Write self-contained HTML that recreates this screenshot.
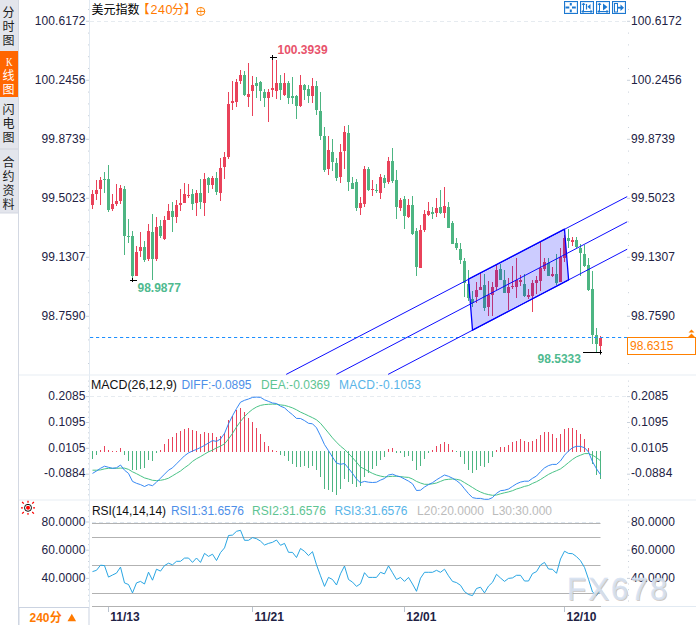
<!DOCTYPE html><html><head><meta charset="utf-8"><title>chart</title><style>html,body{margin:0;padding:0;background:#fff}svg{display:block}text{white-space:pre}</style></head><body><svg width="696" height="625" viewBox="0 0 696 625">
<rect width="696" height="625" fill="#fff"/>
<rect x="0" y="0" width="18.5" height="213" fill="#e3e5ec"/>
<rect x="18" y="0" width="1" height="625" fill="#d3d8e2"/>
<rect x="0" y="51" width="18" height="46" fill="#ff6600"/>
<rect x="0" y="148.5" width="18" height="1" fill="#cfd3dc"/>
<rect x="0" y="212.5" width="18.5" height="1" fill="#d3d8e2"/>
<g font-family="Liberation Sans, Noto Sans CJK SC, sans-serif" font-size="12" text-anchor="middle" fill="#1a1a1a">
<text x="8.6" y="17.3">分</text>
<text x="8.6" y="31.2">时</text>
<text x="8.6" y="45.3">图</text>
</g>
<text x="6" y="66" font-family="Liberation Serif, serif" font-size="12" fill="#fff" textLength="6.6" lengthAdjust="spacingAndGlyphs">K</text>
<g font-family="Liberation Sans, Noto Sans CJK SC, sans-serif" font-size="12" text-anchor="middle" fill="#fff">
<text x="8.6" y="80.3">线</text>
<text x="8.6" y="94.3">图</text>
</g>
<g font-family="Liberation Sans, Noto Sans CJK SC, sans-serif" font-size="12" text-anchor="middle" fill="#1a1a1a">
<text x="8.6" y="114.3">闪</text>
<text x="8.6" y="128.2">电</text>
<text x="8.6" y="142.3">图</text>
<text x="8.6" y="167.3">合</text>
<text x="8.6" y="181.3">约</text>
<text x="8.6" y="195.3">资</text>
<text x="8.6" y="209.3">料</text>
</g>
<rect x="89" y="0" width="1" height="607" fill="#e2eaf2"/>
<rect x="19" y="374.5" width="677" height="1" fill="#e8edf3"/>
<rect x="19" y="499.5" width="677" height="1" fill="#e8edf3"/>
<path d="M90 21.5H627" stroke="#e6ebf0" stroke-width="1" stroke-dasharray="4 3" fill="none"/>
<path d="M90 396.5H627" stroke="#e6ebf0" stroke-width="1" stroke-dasharray="4 3" fill="none"/>
<path d="M92 522.5H601" stroke="#dfe7ef" stroke-width="1" stroke-dasharray="4 3" fill="none"/>
<g font-family="Liberation Sans, sans-serif" font-size="12" fill="#222244" letter-spacing="0.1">
<path d="M88 9.5h1M86 21.3h3M88 33.1h1M88 44.9h1M88 56.7h1M88 68.5h1M86 80.3h3M88 92.1h1M88 103.9h1M88 115.7h1M88 127.5h1M86 139.3h3M88 151.1h1M88 162.9h1M88 174.7h1M88 186.5h1M86 198.3h3M88 210.1h1M88 221.9h1M88 233.7h1M88 245.5h1M86 257.3h3M88 269.1h1M88 280.9h1M88 292.7h1M88 304.5h1M86 316.3h3M88 328.1h1M88 339.9h1M88 351.7h1M88 363.5h1M628 9.5h1M627 21.3h3M628 33.1h1M628 44.9h1M628 56.7h1M628 68.5h1M627 80.3h3M628 92.1h1M628 103.9h1M628 115.7h1M628 127.5h1M627 139.3h3M628 151.1h1M628 162.9h1M628 174.7h1M628 186.5h1M627 198.3h3M628 210.1h1M628 221.9h1M628 233.7h1M628 245.5h1M627 257.3h3M628 269.1h1M628 280.9h1M628 292.7h1M628 304.5h1M627 316.3h3M628 328.1h1M628 339.9h1M628 351.7h1M628 363.5h1" stroke="#c9d1db" stroke-width="1" fill="none"/>
<text x="85.5" y="25.1" text-anchor="end">100.6172</text>
<text x="631" y="25.1">100.6172</text>
<text x="85.5" y="84.1" text-anchor="end">100.2456</text>
<text x="631" y="84.1">100.2456</text>
<text x="85.5" y="143.1" text-anchor="end">99.8739</text>
<text x="631" y="143.1">99.8739</text>
<text x="85.5" y="202.1" text-anchor="end">99.5023</text>
<text x="631" y="202.1">99.5023</text>
<text x="85.5" y="261.1" text-anchor="end">99.1307</text>
<text x="631" y="261.1">99.1307</text>
<text x="85.5" y="320.1" text-anchor="end">98.7590</text>
<text x="631" y="320.1">98.7590</text>
<path d="M88 381.1h1M88 386.3h1M88 391.4h1M86 396.6h3M88 401.8h1M88 406.9h1M88 412.1h1M88 417.3h1M86 422.5h3M88 427.6h1M88 432.8h1M88 438.0h1M88 443.1h1M86 448.3h3M88 453.5h1M88 458.6h1M88 463.8h1M88 469.0h1M86 474.2h3M88 479.3h1M88 484.5h1M88 489.7h1M88 494.8h1M628 381.1h1M628 386.3h1M628 391.4h1M627 396.6h3M628 401.8h1M628 406.9h1M628 412.1h1M628 417.3h1M627 422.5h3M628 427.6h1M628 432.8h1M628 438.0h1M628 443.1h1M627 448.3h3M628 453.5h1M628 458.6h1M628 463.8h1M628 469.0h1M627 474.2h3M628 479.3h1M628 484.5h1M628 489.7h1M628 494.8h1" stroke="#c9d1db" stroke-width="1" fill="none"/>
<text x="85.5" y="399.8" text-anchor="end">0.2085</text>
<text x="631" y="399.8">0.2085</text>
<text x="85.5" y="425.7" text-anchor="end">0.1095</text>
<text x="631" y="425.7">0.1095</text>
<text x="85.5" y="451.5" text-anchor="end">0.0105</text>
<text x="631" y="451.5">0.0105</text>
<text x="85.5" y="477.4" text-anchor="end">-0.0884</text>
<text x="631" y="477.4">-0.0884</text>
<path d="M88 505.1h1M88 510.7h1M88 516.4h1M86 522.0h3M88 527.6h1M88 533.3h1M88 538.9h1M88 544.6h1M86 550.2h3M88 555.8h1M88 561.5h1M88 567.1h1M88 572.8h1M86 578.4h3M88 584.0h1M88 589.7h1M88 595.3h1M88 601.0h1M628 505.1h1M628 510.7h1M628 516.4h1M627 522.0h3M628 527.6h1M628 533.3h1M628 538.9h1M628 544.6h1M627 550.2h3M628 555.8h1M628 561.5h1M628 567.1h1M628 572.8h1M627 578.4h3M628 584.0h1M628 589.7h1M628 595.3h1M628 601.0h1" stroke="#c9d1db" stroke-width="1" fill="none"/>
<text x="85.5" y="525.7" text-anchor="end">80.0000</text>
<text x="631" y="525.7">80.0000</text>
<text x="85.5" y="553.9" text-anchor="end">60.0000</text>
<text x="631" y="553.9">60.0000</text>
<text x="85.5" y="582.1" text-anchor="end">40.0000</text>
<text x="631" y="582.1">40.0000</text>
</g>
<path d="M104 172h1V193h-1ZM103 179h3V180h-3ZM108 165h1V212h-1ZM107 179h3V210h-3ZM124 186h1V255h-1ZM123 189h3V236h-3ZM128 219h1V243h-1ZM127 236h3V237h-3ZM132 231h1V280h-1ZM131 236h3V276h-3ZM144 241h1V262h-1ZM143 247h3V260h-3ZM152 214h1V280h-1ZM151 232h3V259h-3ZM160 220h1V238h-1ZM159 226h3V236h-3ZM172 202h1V232h-1ZM171 211h3V217h-3ZM192 189h1V210h-1ZM191 194h3V204h-3ZM200 179h1V209h-1ZM199 193h3V202h-3ZM208 177h1V193h-1ZM207 178h3V185h-3ZM216 172h1V195h-1ZM215 178h3V192h-3ZM244 71h1V96h-1ZM243 75h3V95h-3ZM256 77h1V98h-1ZM255 83h3V86h-3ZM260 81h1V101h-1ZM259 82h3V91h-3ZM264 89h1V107h-1ZM263 92h3V98h-3ZM280 75h1V100h-1ZM279 83h3V90h-3ZM288 81h1V104h-1ZM287 83h3V98h-3ZM292 77h1V104h-1ZM291 96h3V98h-3ZM296 95h1V119h-1ZM295 96h3V106h-3ZM304 84h1V100h-1ZM303 85h3V90h-3ZM308 85h1V103h-1ZM307 89h3V96h-3ZM316 81h1V115h-1ZM315 86h3V110h-3ZM320 92h1V140h-1ZM319 111h3V136h-3ZM324 127h1V172h-1ZM323 136h3V170h-3ZM332 139h1V171h-1ZM331 152h3V162h-3ZM336 158h1V181h-1ZM335 163h3V178h-3ZM348 125h1V191h-1ZM347 133h3V182h-3ZM352 177h1V189h-1ZM351 183h3V189h-3ZM356 179h1V211h-1ZM355 182h3V208h-3ZM368 167h1V191h-1ZM367 169h3V190h-3ZM376 184h1V193h-1ZM375 190h3V191h-3ZM384 175h1V188h-1ZM383 178h3V183h-3ZM392 148h1V183h-1ZM391 161h3V181h-3ZM396 170h1V219h-1ZM395 180h3V207h-3ZM404 196h1V229h-1ZM403 199h3V216h-3ZM412 196h1V235h-1ZM411 205h3V234h-3ZM416 228h1V276h-1ZM415 231h3V267h-3ZM432 207h1V219h-1ZM431 212h3V214h-3ZM440 190h1V214h-1ZM439 207h3V213h-3ZM448 202h1V228h-1ZM447 207h3V228h-3ZM452 221h1V244h-1ZM451 223h3V244h-3ZM456 238h1V250h-1ZM455 243h3V248h-3ZM460 243h1V264h-1ZM459 249h3V260h-3ZM464 258h1V297h-1ZM463 261h3V283h-3ZM468 270h1V301h-1ZM467 284h3V298h-3ZM472 291h1V307h-1ZM471 299h3V303h-3ZM484 274h1V311h-1ZM483 285h3V308h-3ZM500 264h1V280h-1ZM499 269h3V280h-3ZM504 270h1V293h-1ZM503 280h3V293h-3ZM524 274h1V297h-1ZM523 284h3V296h-3ZM548 258h1V276h-1ZM547 263h3V276h-3ZM556 254h1V285h-1ZM555 274h3V283h-3ZM568 229h1V248h-1ZM567 238h3V241h-3ZM576 237h1V248h-1ZM575 240h3V247h-3ZM580 244h1V276h-1ZM579 248h3V253h-3ZM584 245h1V267h-1ZM583 254h3V266h-3ZM588 258h1V291h-1ZM587 265h3V290h-3ZM592 271h1V344h-1ZM591 289h3V335h-3ZM596 328h1V352h-1ZM595 335h3V344h-3Z" fill="#4db582"/>
<path d="M92 190h1V209h-1ZM91 194h3V205h-3ZM96 180h1V200h-1ZM95 190h3V194h-3ZM100 177h1V205h-1ZM99 180h3V189h-3ZM112 194h1V211h-1ZM111 204h3V209h-3ZM116 184h1V206h-1ZM115 201h3V204h-3ZM120 185h1V204h-1ZM119 188h3V201h-3ZM136 246h1V276h-1ZM135 252h3V276h-3ZM140 232h1V257h-1ZM139 247h3V251h-3ZM148 224h1V261h-1ZM147 231h3V259h-3ZM156 217h1V261h-1ZM155 227h3V259h-3ZM164 216h1V240h-1ZM163 220h3V239h-3ZM168 204h1V220h-1ZM167 211h3V220h-3ZM176 200h1V223h-1ZM175 205h3V217h-3ZM180 189h1V211h-1ZM179 203h3V205h-3ZM184 183h1V203h-1ZM183 194h3V203h-3ZM188 184h1V198h-1ZM187 195h3V196h-3ZM196 190h1V216h-1ZM195 193h3V203h-3ZM204 173h1V216h-1ZM203 179h3V203h-3ZM212 176h1V189h-1ZM211 178h3V185h-3ZM220 158h1V201h-1ZM219 168h3V193h-3ZM224 152h1V179h-1ZM223 157h3V167h-3ZM228 92h1V159h-1ZM227 104h3V157h-3ZM232 81h1V110h-1ZM231 101h3V103h-3ZM236 79h1V107h-1ZM235 82h3V102h-3ZM240 70h1V84h-1ZM239 75h3V81h-3ZM248 63h1V107h-1ZM247 94h3V97h-3ZM252 76h1V116h-1ZM251 85h3V91h-3ZM268 89h1V122h-1ZM267 92h3V98h-3ZM272 57h1V97h-1ZM271 88h3V90h-3ZM276 60h1V99h-1ZM275 83h3V91h-3ZM284 73h1V96h-1ZM283 83h3V95h-3ZM300 75h1V107h-1ZM299 85h3V106h-3ZM312 78h1V103h-1ZM311 86h3V96h-3ZM328 136h1V175h-1ZM327 150h3V169h-3ZM340 144h1V183h-1ZM339 152h3V177h-3ZM344 126h1V169h-1ZM343 132h3V151h-3ZM360 197h1V215h-1ZM359 203h3V208h-3ZM364 166h1V207h-1ZM363 169h3V204h-3ZM372 180h1V196h-1ZM371 189h3V190h-3ZM380 174h1V199h-1ZM379 177h3V193h-3ZM388 157h1V184h-1ZM387 161h3V182h-3ZM400 198h1V211h-1ZM399 200h3V208h-3ZM408 199h1V218h-1ZM407 205h3V217h-3ZM420 225h1V268h-1ZM419 230h3V268h-3ZM424 210h1V232h-1ZM423 214h3V230h-3ZM428 202h1V216h-1ZM427 211h3V215h-3ZM436 198h1V217h-1ZM435 208h3V213h-3ZM444 187h1V218h-1ZM443 206h3V213h-3ZM476 282h1V303h-1ZM475 290h3V297h-3ZM480 273h1V290h-1ZM479 287h3V290h-3ZM488 281h1V316h-1ZM487 295h3V307h-3ZM492 282h1V316h-1ZM491 287h3V295h-3ZM496 265h1V290h-1ZM495 270h3V287h-3ZM508 278h1V310h-1ZM507 287h3V293h-3ZM512 266h1V289h-1ZM511 286h3V287h-3ZM516 258h1V298h-1ZM515 280h3V287h-3ZM520 275h1V286h-1ZM519 280h3V282h-3ZM528 289h1V299h-1ZM527 295h3V297h-3ZM532 280h1V312h-1ZM531 283h3V296h-3ZM536 276h1V294h-1ZM535 280h3V283h-3ZM540 242h1V291h-1ZM539 268h3V281h-3ZM544 258h1V271h-1ZM543 262h3V269h-3ZM552 267h1V277h-1ZM551 274h3V276h-3ZM560 248h1V282h-1ZM559 257h3V282h-3ZM564 235h1V262h-1ZM563 238h3V258h-3ZM572 237h1V246h-1ZM571 240h3V242h-3ZM600 336h1V352h-1ZM599 338h3V346h-3Z" fill="#e9425a"/>
<path d="M90 337.5H627" stroke="#1e8fff" stroke-width="1.2" stroke-dasharray="3.2 2.8" fill="none"/>
<path d="M468.5 279L564.5 229.2L568.6 279.9L472.5 330.2Z" fill="#0000ff" fill-opacity="0.2" stroke="#0000ff" stroke-width="1.3" stroke-linejoin="round"/>
<path d="M286.2 374.4L627.2 196.6M336.4 374.4L627.2 221.8M388.1 374.4L627.2 249.2" stroke="#0000ff" stroke-width="0.95" fill="none"/>
<path d="M270 57.5H277M272.5 55V60M130 280.5H137M132.5 278V282M583 352.5H602M600.5 350V354.5" stroke="#000" stroke-width="1" fill="none"/>
<g font-family="Liberation Sans, sans-serif" font-size="12" font-weight="bold">
<text x="277.5" y="54" fill="#e8536b">100.3939</text>
<text x="137.5" y="291.6" fill="#4fba8f">98.9877</text>
<text x="537.6" y="363.4" fill="#4fba8f">98.5333</text>
</g>
<rect x="627.5" y="337.5" width="68" height="17" fill="#fff" stroke="#ff8000" stroke-width="1"/>
<text x="630" y="349.8" font-family="Liberation Sans, sans-serif" font-size="12" fill="#ff8000">98.6315</text>
<path d="M688 337L691.5 333.5L695 337ZM688.5 332.5L691.5 329.5L694.5 332.5Z" fill="#ff8000"/>
<text x="91.5" y="14.3" font-family="Liberation Sans, Noto Sans CJK SC, sans-serif" font-size="12" fill="#000">美元指数</text>
<text x="137.5" y="14.3" font-family="Liberation Sans, Noto Sans CJK SC, sans-serif" font-size="12" fill="#ff7a00">【</text>
<text x="150.6" y="13.9" font-family="Liberation Sans, sans-serif" font-size="12.6" fill="#ff7a00" textLength="22">240</text>
<text x="172" y="14.3" font-family="Liberation Sans, Noto Sans CJK SC, sans-serif" font-size="12" fill="#ff7a00">分</text>
<text x="184" y="14.3" font-family="Liberation Sans, Noto Sans CJK SC, sans-serif" font-size="12" fill="#ff7a00">】</text>
<g stroke="#ff8000" fill="none"><circle cx="200.8" cy="11.4" r="4" stroke-width="1"/><path d="M196.8 11.4h8" stroke-width="1"/><path d="M200.8 7.4v8" stroke-width="0.6"/></g>
<rect x="564.5" y="1.5" width="13" height="12" fill="#fff" stroke="#1c78d0" stroke-width="1"/>
<rect x="565.5" y="2.5" width="11" height="10" fill="none" stroke="#deebf9" stroke-width="1"/>
<rect x="580.5" y="1.5" width="13" height="12" fill="#fff" stroke="#1c78d0" stroke-width="1"/>
<rect x="581.5" y="2.5" width="11" height="10" fill="none" stroke="#deebf9" stroke-width="1"/>
<rect x="596.5" y="1.5" width="13" height="12" fill="#fff" stroke="#1c78d0" stroke-width="1"/>
<rect x="597.5" y="2.5" width="11" height="10" fill="none" stroke="#deebf9" stroke-width="1"/>
<rect x="612.5" y="1.5" width="13" height="12" fill="#fff" stroke="#1c78d0" stroke-width="1"/>
<rect x="613.5" y="2.5" width="11" height="10" fill="none" stroke="#deebf9" stroke-width="1"/>
<path d="M565.5 7.5h3.8M572 7.5h3.8M570.8 3v2.6M570.8 9.4v2.8" stroke="#1c78d0" stroke-width="2" fill="none"/>
<path d="M583.5 3.5V12M582 5l1.5-2l1.5 2M582 11.5H592M590.5 10l1.5 1.5l-1.5 1.5M583.5 10l-1.5 1.5l1.5 1.5" stroke="#1c78d0" stroke-width="1" fill="none"/>
<path d="M586.5 4v5.5" stroke="#1c78d0" stroke-width="1.2" fill="none"/><path d="M590.5 4v5.5l-3-2.75z" fill="#1c78d0"/>
<path d="M599.5 3.5V12M598 5l1.5-2l1.5 2M598 11.5H608M606.5 10l1.5 1.5l-1.5 1.5M599.5 10l-1.5 1.5l1.5 1.5" stroke="#1c78d0" stroke-width="1" fill="none"/>
<path d="M603 3.5v7l4.5-3.5z" fill="#1c78d0"/>
<rect x="614.5" y="3.5" width="3" height="8.5" fill="none" stroke="#1c78d0" stroke-width="1"/>
<path d="M617 7.7h4" stroke="#1c78d0" stroke-width="1.8" fill="none"/><path d="M620.5 4.5l3.5 3.2l-3.5 3.2z" fill="#1c78d0"/>
<path d="M100 450h1v2h-1zM104 446h1v6h-1zM108 450h1v2h-1zM112 451h1v1h-1zM116 451h1v1h-1zM120 448h1v4h-1zM160 450h1v2h-1zM164 444h1v8h-1zM168 439h1v13h-1zM172 437h1v15h-1zM176 433h1v19h-1zM180 431h1v21h-1zM184 429h1v23h-1zM188 428h1v24h-1zM192 430h1v22h-1zM196 431h1v21h-1zM200 434h1v18h-1zM204 432h1v20h-1zM208 433h1v19h-1zM212 433h1v19h-1zM216 437h1v15h-1zM220 436h1v16h-1zM224 433h1v19h-1zM228 420h1v32h-1zM232 416h1v36h-1zM236 410h1v42h-1zM240 408h1v44h-1zM244 412h1v40h-1zM248 418h1v34h-1zM252 422h1v30h-1zM256 428h1v24h-1zM260 434h1v18h-1zM264 442h1v10h-1zM268 446h1v6h-1zM272 450h1v2h-1zM276 451h1v1h-1zM388 449h1v3h-1zM392 448h1v4h-1zM432 450h1v2h-1zM436 446h1v6h-1zM440 444h1v8h-1zM444 442h1v10h-1zM448 444h1v8h-1zM452 450h1v2h-1zM496 450h1v2h-1zM500 447h1v5h-1zM504 447h1v5h-1zM508 445h1v7h-1zM512 442h1v10h-1zM516 441h1v11h-1zM520 439h1v13h-1zM524 441h1v11h-1zM528 442h1v10h-1zM532 441h1v11h-1zM536 439h1v13h-1zM540 435h1v17h-1zM544 432h1v20h-1zM548 432h1v20h-1zM552 434h1v18h-1zM556 438h1v14h-1zM560 434h1v18h-1zM564 429h1v23h-1zM568 428h1v24h-1zM572 428h1v24h-1zM576 430h1v22h-1zM580 434h1v18h-1zM584 439h1v13h-1zM588 448h1v4h-1z" fill="#e9425a"/>
<path d="M92 451h1v8h-1zM96 451h1v4h-1zM124 451h1v4h-1zM128 451h1v10h-1zM132 451h1v19h-1zM136 451h1v19h-1zM140 451h1v18h-1zM144 451h1v17h-1zM148 451h1v9h-1zM152 451h1v10h-1zM156 451h1v2h-1zM280 451h1v4h-1zM284 451h1v5h-1zM288 451h1v10h-1zM292 451h1v13h-1zM296 451h1v16h-1zM300 451h1v16h-1zM304 451h1v15h-1zM308 451h1v17h-1zM312 451h1v15h-1zM316 451h1v19h-1zM320 451h1v26h-1zM324 451h1v38h-1zM328 451h1v39h-1zM332 451h1v41h-1zM336 451h1v44h-1zM340 451h1v38h-1zM344 451h1v28h-1zM348 451h1v31h-1zM352 451h1v33h-1zM356 451h1v36h-1zM360 451h1v35h-1zM364 451h1v26h-1zM368 451h1v22h-1zM372 451h1v18h-1zM376 451h1v15h-1zM380 451h1v9h-1zM384 451h1v6h-1zM396 451h1v2h-1zM400 451h1v2h-1zM404 451h1v6h-1zM408 451h1v5h-1zM412 451h1v10h-1zM416 451h1v19h-1zM420 451h1v15h-1zM424 451h1v8h-1zM428 451h1v2h-1zM456 451h1v1h-1zM460 451h1v6h-1zM464 451h1v13h-1zM468 451h1v19h-1zM472 451h1v22h-1zM476 451h1v19h-1zM480 451h1v15h-1zM484 451h1v16h-1zM488 451h1v12h-1zM492 451h1v6h-1zM592 451h1v13h-1zM596 451h1v24h-1zM600 451h1v28h-1z" fill="#4db582"/>
<polyline points="92.5,470.2 96.5,470.2 100.5,469.9 104.5,468.9 108.5,468.3 112.5,468.3 116.5,468.3 120.5,468.1 124.5,468.1 128.5,469.4 132.5,471.8 136.5,473.7 140.5,475.8 144.5,477.9 148.5,479.0 152.5,480.3 156.5,480.6 160.5,480.3 164.5,479.5 168.5,478.2 172.5,475.8 176.5,473.4 180.5,471.0 184.5,467.8 188.5,465.0 192.5,461.4 196.5,458.7 200.5,456.6 204.5,454.2 208.5,451.8 212.5,450.2 216.5,447.8 220.5,446.2 224.5,443.8 228.5,439.0 232.5,433.4 236.5,427.0 240.5,421.4 244.5,416.6 248.5,412.6 252.5,409.4 256.5,407.0 260.5,405.4 264.5,404.6 268.5,404.3 272.5,404.1 276.5,404.3 280.5,404.9 284.5,405.4 288.5,406.5 292.5,407.9 296.5,409.8 300.5,412.1 304.5,413.9 308.5,415.8 312.5,417.7 316.5,419.8 320.5,423.3 324.5,428.1 328.5,432.9 332.5,437.9 336.5,442.2 340.5,446.2 344.5,449.4 348.5,453.4 352.5,457.7 356.5,462.2 360.5,467.0 364.5,469.1 368.5,471.3 372.5,473.4 376.5,475.0 380.5,476.1 384.5,476.9 388.5,476.6 392.5,476.3 396.5,476.3 400.5,476.6 404.5,477.1 408.5,477.4 412.5,479.0 416.5,481.4 420.5,483.0 424.5,484.3 428.5,484.3 432.5,483.8 436.5,483.0 440.5,481.4 444.5,479.8 448.5,479.3 452.5,479.0 456.5,479.3 460.5,480.2 464.5,482.6 468.5,485.0 472.5,487.5 476.5,490.0 480.5,492.0 484.5,493.6 488.5,494.6 492.5,495.3 496.5,495.0 500.5,493.8 504.5,492.8 508.5,491.9 512.5,490.7 516.5,489.0 520.5,487.8 524.5,486.4 528.5,485.5 532.5,483.4 536.5,481.7 540.5,479.5 544.5,476.9 548.5,474.4 552.5,472.4 556.5,470.7 560.5,468.9 564.5,465.9 568.5,462.6 572.5,459.4 576.5,456.8 580.5,455.2 584.5,453.6 588.5,453.6 592.5,455.2 596.5,457.6 600.5,460.8" fill="none" stroke="#3fbf7f" stroke-width="0.95" stroke-linejoin="round"/>
<polyline points="92.5,473.4 96.5,471.0 100.5,468.3 104.5,466.2 108.5,467.3 112.5,468.3 116.5,467.8 120.5,465.0 124.5,470.2 128.5,473.4 132.5,481.4 136.5,483.3 140.5,484.6 144.5,486.5 148.5,484.6 152.5,485.7 156.5,482.2 160.5,478.2 164.5,474.2 168.5,470.2 172.5,467.8 176.5,463.8 180.5,459.8 184.5,455.8 188.5,452.9 192.5,451.0 196.5,449.4 200.5,447.5 204.5,445.4 208.5,443.0 212.5,440.6 216.5,441.4 220.5,439.0 224.5,433.4 228.5,423.8 232.5,415.8 236.5,408.6 240.5,402.2 244.5,400.3 248.5,399.0 252.5,397.4 256.5,397.1 260.5,397.4 264.5,399.8 268.5,401.4 272.5,403.0 276.5,403.5 280.5,406.2 284.5,407.8 288.5,411.5 292.5,414.7 296.5,418.4 300.5,418.5 304.5,420.6 308.5,423.3 312.5,423.8 316.5,427.8 320.5,435.8 324.5,444.6 328.5,450.7 332.5,457.1 336.5,463.0 340.5,464.3 344.5,463.5 348.5,468.3 352.5,473.4 356.5,479.0 360.5,482.7 364.5,481.4 368.5,482.2 372.5,482.5 376.5,482.2 380.5,480.1 384.5,478.5 388.5,475.0 392.5,474.2 396.5,475.8 400.5,476.9 404.5,479.0 408.5,481.1 412.5,483.8 416.5,490.5 420.5,490.2 424.5,487.0 428.5,484.6 432.5,482.7 436.5,479.8 440.5,477.4 444.5,475.0 448.5,476.3 452.5,478.2 456.5,480.6 460.5,483.8 464.5,488.8 468.5,493.6 472.5,497.6 476.5,498.4 480.5,498.4 484.5,499.3 488.5,499.3 492.5,497.6 496.5,493.3 500.5,490.7 504.5,490.2 508.5,489.0 512.5,486.4 516.5,483.8 520.5,482.1 524.5,481.2 528.5,481.2 532.5,478.3 536.5,476.0 540.5,471.7 544.5,467.9 548.5,465.6 552.5,464.4 556.5,464.4 560.5,460.9 564.5,455.2 568.5,451.0 572.5,447.7 576.5,446.3 580.5,446.4 584.5,447.7 588.5,452.0 592.5,461.6 596.5,468.8 600.5,474.6" fill="none" stroke="#2b82f2" stroke-width="0.95" stroke-linejoin="round"/>
<g font-family="Liberation Sans, sans-serif" font-size="12">
<text x="91" y="389.2" fill="#111" textLength="86" lengthAdjust="spacingAndGlyphs">MACD(26,12,9)</text>
<text x="181.5" y="389.2" fill="#4e8fe8" textLength="70">DIFF:-0.0895</text>
<text x="261" y="389.2" fill="#5ec492" textLength="69">DEA:-0.0369</text>
<text x="339" y="389.2" fill="#58b4e8" textLength="82">MACD:-0.1053</text>
</g>
<path d="M92 523.5H600.5M92 537.5H600.5M92 565.5H600.5M92 593.5H600.5" stroke="#b2b2b2" stroke-width="1" fill="none"/>
<polyline points="92.5,571.6 96.5,570.3 100.5,565.2 104.5,565.6 108.5,577.1 112.5,575.0 116.5,573.1 120.5,567.1 124.5,582.9 128.5,584.5 132.5,592.9 136.5,582.9 140.5,581.4 144.5,584.0 148.5,572.2 152.5,580.2 156.5,569.2 160.5,571.1 164.5,565.6 168.5,563.2 172.5,564.8 176.5,561.3 180.5,561.3 184.5,558.1 188.5,558.0 192.5,562.4 196.5,558.0 200.5,562.4 204.5,553.4 208.5,556.4 212.5,554.2 216.5,560.5 220.5,552.6 224.5,547.9 228.5,535.5 232.5,535.1 236.5,531.3 240.5,530.3 244.5,540.3 248.5,540.3 252.5,537.6 256.5,538.7 260.5,541.1 264.5,545.0 268.5,543.4 272.5,542.3 276.5,540.0 280.5,545.3 284.5,543.4 288.5,552.3 292.5,552.4 296.5,557.5 300.5,548.5 304.5,551.3 308.5,555.6 312.5,551.7 316.5,564.8 320.5,575.8 324.5,586.4 328.5,577.4 332.5,579.5 336.5,585.0 340.5,573.8 344.5,566.0 348.5,579.5 352.5,582.1 356.5,586.4 360.5,583.7 364.5,572.7 368.5,577.4 372.5,577.4 376.5,577.4 380.5,572.3 384.5,573.9 388.5,565.9 392.5,572.7 396.5,579.5 400.5,577.4 404.5,581.4 408.5,577.4 412.5,584.0 416.5,591.3 420.5,578.2 424.5,572.3 428.5,572.3 432.5,572.3 436.5,570.3 440.5,572.3 444.5,569.2 448.5,575.8 452.5,581.4 456.5,582.6 460.5,585.3 464.5,591.6 468.5,594.5 472.5,595.6 476.5,588.5 480.5,587.2 484.5,592.9 488.5,586.1 492.5,582.3 496.5,574.3 500.5,578.0 504.5,581.4 508.5,578.4 512.5,577.9 516.5,575.3 520.5,575.3 524.5,581.0 528.5,581.0 532.5,573.6 536.5,571.6 540.5,565.0 544.5,562.4 548.5,569.0 552.5,569.3 556.5,573.3 560.5,559.0 564.5,551.2 568.5,553.4 572.5,553.7 576.5,556.6 580.5,560.7 584.5,567.4 588.5,579.2 592.5,592.0 596.5,595.4 600.5,590.7" fill="none" stroke="#1ea0e0" stroke-width="0.95" stroke-linejoin="round"/>
<g font-family="Liberation Sans, sans-serif" font-size="12">
<text x="92" y="515.3" fill="#111" textLength="74">RSI(14,14,14)</text>
<text x="171" y="515.3" fill="#4e8fe8" textLength="73">RSI1:31.6576</text>
<text x="252" y="515.3" fill="#5ec492" textLength="74">RSI2:31.6576</text>
<text x="334.5" y="515.3" fill="#58b4e8" textLength="73">RSI3:31.6576</text>
<text x="417" y="515.3" fill="#bbb" textLength="67">L20:20.0000</text>
<text x="492" y="515.3" fill="#bbb" textLength="60">L30:30.000</text>
</g>
<g><circle cx="28" cy="507.8" r="3.5" fill="none" stroke="#000" stroke-width="0.95"/><circle cx="28" cy="507.8" r="2" fill="#f00"/><path d="M28 500.8v1.9M28 512.9v1.9M21 507.8h1.9M33.1 507.8h1.9M22.1 502L23.8 503.6M33.9 513.6L32.2 512M33.9 502L32.2 503.6M22.1 513.6L23.8 512" stroke="#f00" stroke-width="1.3" fill="none"/></g>
<rect x="92" y="606" width="509" height="1" fill="#b2b2b2"/>
<rect x="601" y="606" width="95" height="1" fill="#e2eaf2"/>
<path d="M108.5 607v5M252.5 607v5M404.5 607v5M564.5 607v5" stroke="#b9c3cf" stroke-width="1" fill="none"/>
<g font-family="Liberation Sans, sans-serif" font-size="12" font-weight="bold" fill="#222244">
<text x="110.3" y="620.6">11/13</text>
<text x="254.5" y="620.6">11/21</text>
<text x="406.3" y="620.6">12/01</text>
<text x="566.5" y="620.6">12/10</text>
</g>
<rect x="19" y="607.5" width="70" height="20" fill="#fff" stroke="#cbd3e1" stroke-width="1"/>
<text x="29.5" y="621.8" font-family="Liberation Sans, sans-serif" font-size="12" font-weight="bold" fill="#ff7a00">240</text>
<text x="49.7" y="622.2" font-family="Liberation Sans, Noto Sans CJK SC, sans-serif" font-size="12" font-weight="bold" fill="#ff7a00">分</text>
<path d="M67.5 621.3L71.8 613.8L76.1 621.3Z" fill="#ff7a00"/>
<g font-family="Liberation Sans, sans-serif" font-size="31" letter-spacing="2.2">
<text x="568" y="601.3" fill="#a08a78" fill-opacity="0.5">FX678</text>
<text x="567" y="600.3" fill="#d6e2f2" stroke="#d6e2f2" stroke-width="0.4" fill-opacity="0.88">FX678</text>
</g>
</svg></body></html>
